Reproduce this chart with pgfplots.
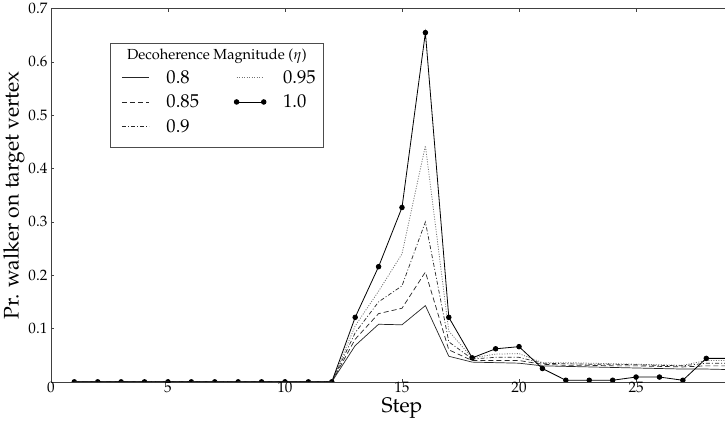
\documentclass[border=0pt]{standalone}
\usepackage[T1]{fontenc}
\usepackage{mathpazo}
\usepackage{pgfplots}
\pgfplotsset{compat=1.18}
\usepackage{pgfplotstable}

\pgfplotstableread{
x a b c d e
1 0 0 0 0 0
2 0 0 0 0 0
3 0 0 0 0 0
4 0 0 0 0 0
5 0 0 0 0 0
6 0 0 0 0 0
7 0 0 0 0 0
8 0 0 0 0 0
9 0 0 0 0 0
10 0 0 0 0 0
11 0 0 0 0 0
12 0 0 0 0 0
13 0.068 0.080 0.092 0.105 0.121
14 0.108 0.128 0.150 0.170 0.216
15 0.107 0.138 0.180 0.240 0.327
16 0.143 0.206 0.300 0.443 0.655
17 0.048 0.060 0.075 0.095 0.121
18 0.037 0.040 0.043 0.045 0.045
19 0.036 0.040 0.046 0.052 0.062
20 0.035 0.040 0.046 0.053 0.066
21 0.030 0.033 0.035 0.036 0.025
22 0.029 0.031 0.034 0.036 0.003
23 0.028 0.031 0.033 0.035 0.003
24 0.027 0.030 0.033 0.034 0.003
25 0.026 0.030 0.032 0.033 0.009
26 0.025 0.029 0.031 0.032 0.009
27 0.024 0.028 0.030 0.031 0.003
28 0.024 0.030 0.035 0.040 0.044
29 0.023 0.030 0.035 0.040 0.044
}\data

\begin{document}
\begin{tikzpicture}
\begin{axis}[
  scale only axis, width=698pt, height=371pt,
  xmin=0, xmax=30, ymin=0, ymax=0.7,
  axis x line=box, axis y line=left,
  axis line style={-, black!75, line width=0.6pt},
  xtick={0,5,10,15,20,25},
  ytick={0.1,0.2,0.3,0.4,0.5,0.6,0.7},
  yticklabel style={/pgf/number format/fixed, /pgf/number format/precision=1},
  tick align=inside, major tick length=3pt, tick style={black!75, line width=0.5pt},
  ticklabel style={font=\fontsize{15}{17}\selectfont},
  xticklabel style={yshift=1pt, inner sep=1pt},
  xlabel={Step}, ylabel={Pr. walker on target vertex},
  label style={font=\fontsize{21}{24}\selectfont},
  xlabel style={yshift=0pt},
  ylabel style={yshift=-3pt},
  clip marker paths=true,
  legend columns=2,
  legend cell align=left,
  legend image code/.code={\draw[#1] plot coordinates {(0pt,0pt) (27pt,0pt)};},
  legend style={at={(rel axis cs:0.1003,0.838)}, anchor=north west, draw=none, fill=none,
    inner sep=0pt, nodes={inner sep=1pt}, font=\fontsize{18.5}{21}\selectfont, row sep=8pt,
    /tikz/every odd column/.append style={column sep=16pt},
    /tikz/every even column/.append style={column sep=34pt}},
]
\addplot[black!85, line width=0.7pt, mark=none] table[x=x,y=a]{\data};
\addlegendentry{0.8}
\addplot[black!55, line width=0.8pt, mark=none, dash pattern=on 1pt off 1.5pt] table[x=x,y=d]{\data};
\addlegendentry{0.95}
\addplot[black!85, line width=0.7pt, mark=none, dash pattern=on 5pt off 3pt] table[x=x,y=b]{\data};
\addlegendentry{0.85}
\addplot[black, line width=0.8pt, mark=*, mark size=2.3pt, mark options={solid, fill=black}] table[x=x,y=e]{\data};
\addlegendentry{1.0}
\addplot[black!85, line width=0.7pt, mark=none, dash pattern=on 4pt off 2pt on 1pt off 2pt] table[x=x,y=c]{\data};
\addlegendentry{0.9}
\draw[black!70, line width=0.7pt] (rel axis cs:0.0845,0.908) rectangle (rel axis cs:0.388,0.628);
\node[font=\fontsize{14.5}{17}\selectfont] at (rel axis cs:0.2364,0.873) {Decoherence Magnitude ($\eta$)};
\coordinate (cropR) at (rel axis cs:0.96,1);
\end{axis}
\pgfresetboundingbox
\path[use as bounding box] (current axis.outer south west) rectangle (cropR |- current axis.outer north east);
\end{tikzpicture}
\end{document}
